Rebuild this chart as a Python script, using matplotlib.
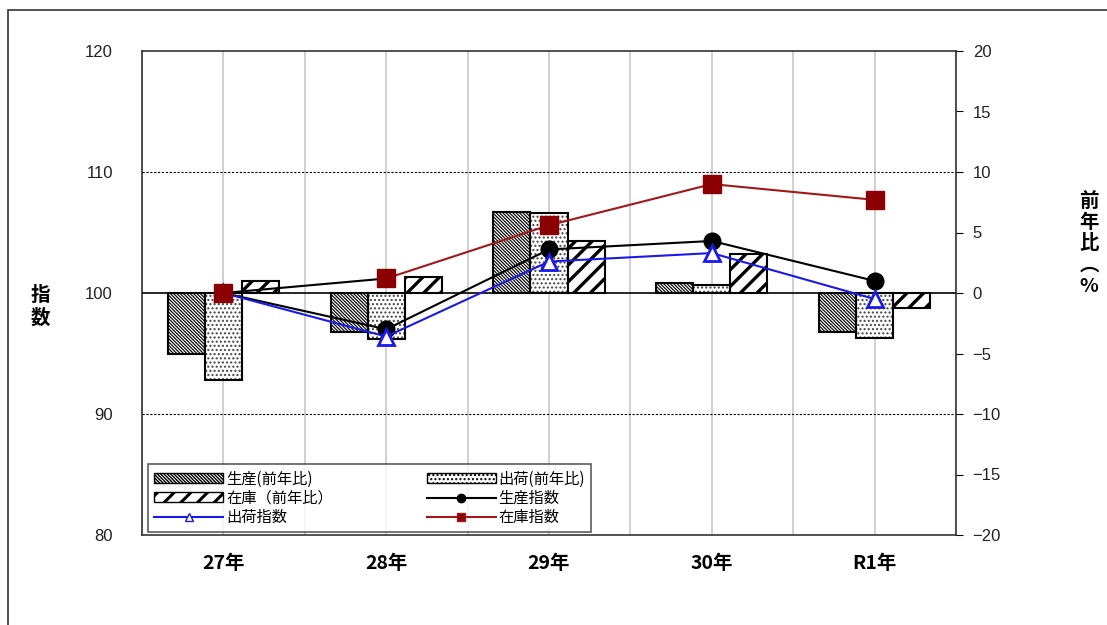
import matplotlib
matplotlib.use("Agg")
import matplotlib.pyplot as plt
import numpy as np
from matplotlib.lines import Line2D
from matplotlib.patches import Patch, Rectangle

plt.rcParams['font.family'] = ['Noto Sans CJK JP', 'DejaVu Sans']

# data
years = ['27年', '28年', '29年', '30年', 'R1年']
prod_yoy = [-5.0, -3.2, 6.7, 0.8, -3.2]      # 生産(前年比)
ship_yoy = [-7.2, -3.8, 6.6, 0.7, -3.7]      # 出荷(前年比)
stock_yoy = [1.0, 1.3, 4.3, 3.2, -1.2]       # 在庫(前年比)
prod_idx = [100.0, 97.0, 103.6, 104.3, 101.0]   # 生産指数
ship_idx = [100.0, 96.4, 102.6, 103.3, 99.5]    # 出荷指数
stock_idx = [100.0, 101.2, 105.6, 109.0, 107.7]  # 在庫指数
left_ticks = [80, 90, 100, 110, 120]
right_ticks = [-20, -15, -10, -5, 0, 5, 10, 15, 20]

narrow = ['Liberation Sans Narrow', 'Liberation Sans', 'DejaVu Sans']
PROD_HATCH = '\\' * 10
SHIP_HATCH = '....'
STOCK_HATCH = '//'


def hatched_bar(ax, xs, vals, width, hatch, hcolor, hlw):
    """bar with hatch colour separate from black outline"""
    with plt.rc_context({'hatch.linewidth': hlw}):
        bars = ax.bar(xs, vals, width, color='white', edgecolor=hcolor, hatch=hatch,
                      linewidth=0, zorder=2)
        for b in bars:
            if hasattr(b, 'set_hatch_linewidth'):
                b.set_hatch_linewidth(hlw)
    ax.bar(xs, vals, width, fill=False, edgecolor='black', linewidth=1.5, zorder=2.5)


fig = plt.figure(figsize=(11.07, 6.25), dpi=100)
# outer frame
fig.patches.append(Rectangle((8 / 1107, -0.01), 1.2, (625 - 10) / 625 + 0.01,
                             transform=fig.transFigure, fill=False,
                             edgecolor='#333333', linewidth=1.2))

ax = fig.add_axes([0.1283, 0.144, 0.7353, 0.7744])
ax2 = ax.twinx()
ax.set_zorder(1)
ax2.set_zorder(2)
ax2.patch.set_visible(False)

x = np.arange(len(years))
w = 0.228

# bars on percent axis (drawn below the lines)
hatched_bar(ax, x - w, prod_yoy, w, PROD_HATCH, '#111111', 0.9)
hatched_bar(ax, x, ship_yoy, w, SHIP_HATCH, '#444444', 1.0)
hatched_bar(ax, x + w, stock_yoy, w, STOCK_HATCH, 'black', 2.4)

ax.set_xlim(-0.5, 4.5)
ax.set_ylim(-20, 20)
ax.set_yticks(right_ticks)
ax.set_yticklabels([f'{t}' if t >= 0 else f'\u2212{abs(t)}' for t in right_ticks])
ax.yaxis.tick_right()
ax.tick_params(axis='y', direction='out', length=5, pad=7, labelsize=12, labelcolor='#222222')
for lbl in ax.get_yticklabels():
    lbl.set_family(narrow)

ax.set_xticks(x)
ax.set_xticklabels(years, fontsize=14, fontweight='bold')
ax.set_xticks(np.arange(-0.5, 4.6, 0.5), minor=True)
ax.tick_params(axis='x', which='both', length=0, pad=14)
ax.grid(axis='x', which='both', color='#c8c8c8', linewidth=1.2, zorder=0)
ax.set_axisbelow(True)
for yv in (10, -10):
    ax.axhline(yv, color='black', linestyle=(0, (2, 1.5)), linewidth=0.8, zorder=1)
ax.axhline(0, color='black', linewidth=1.2, zorder=3)
for s in ax.spines.values():
    s.set_linewidth(1.2)
    s.set_color('#333333')

# index lines on left axis
ax2.set_ylim(80, 120)
ax2.set_yticks(left_ticks)
ax2.yaxis.tick_left()
ax2.tick_params(axis='y', length=0, pad=21, labelsize=12, labelcolor='#222222')
for lbl in ax2.get_yticklabels():
    lbl.set_family(narrow)
for s in ax2.spines.values():
    s.set_visible(False)

ax2.plot(x, prod_idx, color='black', linewidth=1.5, marker='o', markersize=12, zorder=4)
ax2.plot(x, ship_idx, color='#1a1ae6', linewidth=1.5, marker='^', markersize=12,
         markerfacecolor='white', markeredgewidth=2, zorder=5)
ax2.plot(x[:2], stock_idx[:2], color='black', linewidth=1.5, zorder=3)
ax2.plot(x[1:], stock_idx[1:], color='#a01818', linewidth=1.5, zorder=3)
ax2.plot(x, stock_idx, color='#a01818', linestyle='none', marker='s', markersize=13,
         markerfacecolor='#8b0000', markeredgecolor='#8b0000', zorder=6)

# axis titles
fig.text(40 / 1107, 1 - 307 / 625, '指\n数', fontsize=14, fontweight='bold',
         ha='center', va='center', linespacing=1.2)
fig.text(1089 / 1107, 1 - 192 / 625, '前\n年\n比\n︵\n%', fontsize=14, fontweight='bold',
         ha='center', va='top', linespacing=1.15)

# legend
h = [
    Patch(facecolor='white', edgecolor='black', hatch=PROD_HATCH),
    Patch(facecolor='white', edgecolor='black', hatch=STOCK_HATCH),
    Line2D([], [], color='#1a1ae6', marker='^', markerfacecolor='white', markersize=6),
    Patch(facecolor='white', edgecolor='black', hatch=SHIP_HATCH),
    Line2D([], [], color='black', marker='o', markersize=6),
    Line2D([], [], color='#a01818', marker='s', markerfacecolor='#8b0000', markersize=6),
]
labels = ['生産(前年比)', '在庫（前年比）', '出荷指数', '出荷(前年比)', '生産指数', '在庫指数']
leg = ax2.legend(h, labels, ncol=2, loc='lower left', bbox_to_anchor=(0.0074, 0.006, 0.5445, 0.15),
                 mode='expand', fontsize=11, handlelength=4.5, handleheight=0.6,
                 handletextpad=0.2, labelspacing=0.15, borderpad=0.4, columnspacing=2,
                 borderaxespad=0, frameon=True, fancybox=False, edgecolor='#333333')
leg.get_frame().set_linewidth(1.2)
for p in leg.get_patches():
    if hasattr(p, 'set_hatch_linewidth') and p.get_hatch() == STOCK_HATCH:
        p.set_hatch_linewidth(2.2)

fig.savefig('out.png', dpi=100)
